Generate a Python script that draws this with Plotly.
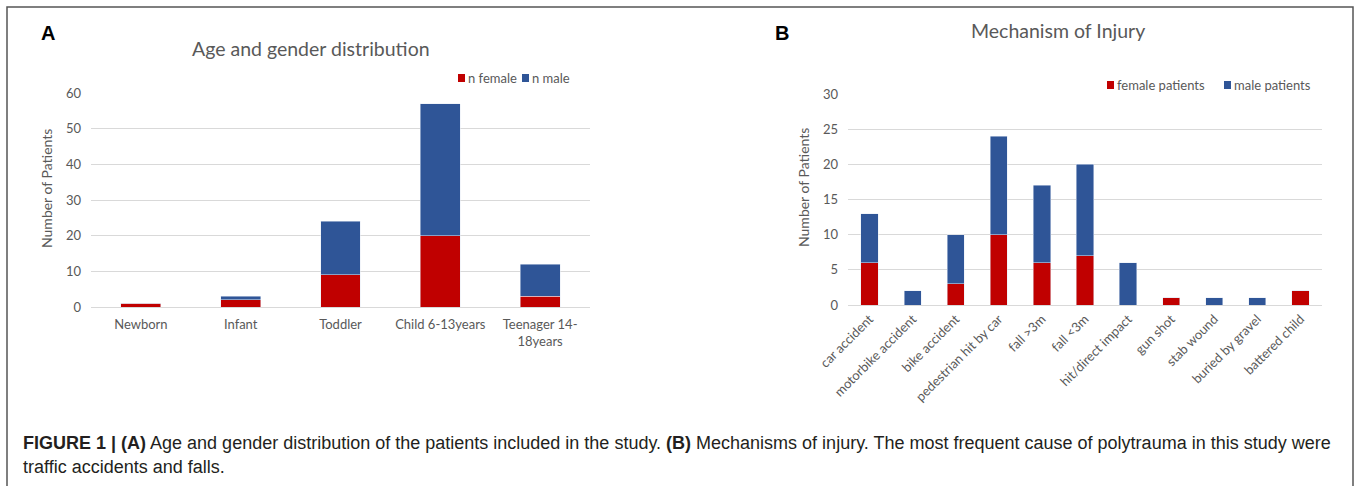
import plotly.graph_objects as go

# ---------------- data ----------------
age_groups = ["Newborn", "Infant", "Toddler", "Child 6-13years", "Teenager 14-<br>18years"]
age_female = [1, 2, 9, 20, 3]
age_male = [0, 1, 15, 37, 9]

mechanisms = ["car accident", "motorbike accident", "bike accident", "pedestrian hit by car",
              "fall >3m", "fall <3m", "hit/direct impact", "gun shot", "stab wound",
              "buried by gravel", "battered child"]
mech_female = [6, 0, 3, 10, 6, 7, 0, 1, 0, 0, 2]
mech_male = [7, 2, 7, 14, 11, 13, 6, 0, 1, 1, 0]

ticks_a = [0, 10, 20, 30, 40, 50, 60]
ticks_b = [0, 5, 10, 15, 20, 25, 30]

# ---------------- styling ----------------
W, H = 1357, 486
RED = "#C00000"
BLUE = "#2F5597"
GRID = "#D9D9D9"
TXT = "#595959"
FONT = "Lato"


def px(x):
    return x / W


def py(y):
    return 1 - y / H


fig = go.Figure()
fig.add_trace(go.Bar(x=age_groups, y=age_female, name="n female", marker_color=RED,
                     width=0.4, xaxis="x", yaxis="y", showlegend=False))
fig.add_trace(go.Bar(x=age_groups, y=age_male, name="n male", marker_color=BLUE,
                     width=0.4, xaxis="x", yaxis="y", showlegend=False))
fig.add_trace(go.Bar(x=mechanisms, y=mech_female, name="female patients", marker_color=RED,
                     width=0.4, xaxis="x2", yaxis="y2", showlegend=False))
fig.add_trace(go.Bar(x=mechanisms, y=mech_male, name="male patients", marker_color=BLUE,
                     width=0.4, xaxis="x2", yaxis="y2", showlegend=False))

axis_font = dict(family=FONT, size=13, color=TXT)

fig.update_layout(
    width=W, height=H,
    margin=dict(l=0, r=0, t=0, b=0, autoexpand=False),
    paper_bgcolor="white", plot_bgcolor="white",
    barmode="stack",
    font=dict(family=FONT, color=TXT),
    xaxis=dict(domain=[px(91), px(590)], anchor="y", showgrid=False, showline=False,
               ticks="", tickfont=axis_font, tickangle=0, ticklabelstandoff=8, automargin=False),
    yaxis=dict(domain=[py(307), py(93)], anchor="x", range=[0, 60], tickvals=ticks_a,
               showgrid=True, gridcolor=GRID, gridwidth=1, zeroline=True, zerolinecolor=GRID,
               zerolinewidth=1, showline=False, ticks="", tickfont=axis_font, ticklabelstandoff=9,
               automargin=False),
    xaxis2=dict(domain=[px(848), px(1322)], anchor="y2", showgrid=False, showline=False,
                ticks="", tickfont=dict(family=FONT, size=13, color=TXT), tickangle=-45,
                ticklabelstandoff=3, automargin=False),
    yaxis2=dict(domain=[py(305), py(94)], anchor="x2", range=[0, 30], tickvals=ticks_b,
                showgrid=True, gridcolor=GRID, gridwidth=1, zeroline=True, zerolinecolor=GRID,
                zerolinewidth=1, showline=False, ticks="", tickfont=axis_font, ticklabelstandoff=9,
                automargin=False),
)

CAP_FONT = dict(family="Liberation Sans", size=18, color="#231F20")
annotations = [
    # panel letters
    dict(text="<b>A</b>", x=px(48), y=py(33), font=dict(family="Liberation Sans", size=20, color="black")),
    dict(text="<b>B</b>", x=px(782), y=py(33), font=dict(family="Liberation Sans", size=20, color="black")),
    # chart titles
    dict(text="Age and gender distribution", x=px(311), y=py(48), font=dict(family=FONT, size=19.5, color=TXT)),
    dict(text="Mechanism of Injury", x=px(1058), y=py(30), font=dict(family=FONT, size=19.5, color=TXT)),
    # y axis titles
    dict(text="Number of Patients", x=px(47), y=py(189), textangle=-90, font=dict(family=FONT, size=14, color=TXT)),
    dict(text="Number of Patients", x=px(803), y=py(188), textangle=-90, font=dict(family=FONT, size=14, color=TXT)),
    # caption
    dict(text="<b>FIGURE 1 | (A)</b> Age and gender distribution of the patients included in the study. "
              "<b>(B)</b> Mechanisms of injury. The most frequent cause of polytrauma in this study were",
         x=px(21), y=py(443), xanchor="left", font=CAP_FONT),
    dict(text="traffic accidents and falls.", x=px(21), y=py(467), xanchor="left", font=CAP_FONT),
]

# manual legends (square + label)
legend_items = [
    (458, 78, RED, "n female"),
    (522, 78, BLUE, "n male"),
    (1107, 85, RED, "female patients"),
    (1224, 85, BLUE, "male patients"),
]
shapes = []
for x0, yc, col, label in legend_items:
    shapes.append(dict(type="rect", xref="paper", yref="paper",
                       x0=px(x0), x1=px(x0 + 7), y0=py(yc + 4), y1=py(yc - 4),
                       fillcolor=col, line=dict(width=0)))
    annotations.append(dict(text=label, x=px(x0 + 8), y=py(yc), xanchor="left",
                            font=dict(family=FONT, size=13, color=TXT)))

# outer frame
shapes.append(dict(type="rect", xref="paper", yref="paper", x0=px(7), x1=px(1353),
                   y0=-0.2, y1=py(7), line=dict(color="#555555", width=1.5), fillcolor="rgba(0,0,0,0)"))

for a in annotations:
    a.setdefault("xref", "paper")
    a.setdefault("yref", "paper")
    a.setdefault("showarrow", False)
    a.setdefault("xanchor", "center")
    a.setdefault("yanchor", "middle")

fig.update_layout(annotations=annotations, shapes=shapes)

fig.write_html("out.html", config={"displayModeBar": False},
               post_script="document.body.style.margin='0';")
